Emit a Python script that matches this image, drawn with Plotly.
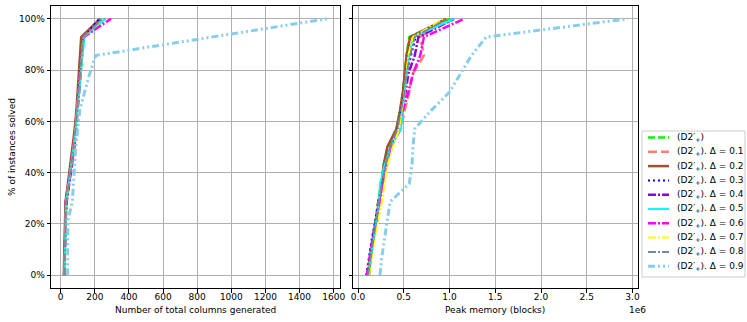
import plotly.graph_objects as go
from plotly.subplots import make_subplots

# share of instances solved (15 instances)
pct = [0, 7.1, 14.3, 21.4, 28.6, 35.7, 42.9, 50, 57.1, 64.3, 71.4, 78.6, 85.7, 92.9, 100]

labels = [
    "(D2′<sub>+</sub>)",
    "(D2′<sub>+</sub>). Δ = 0.1",
    "(D2′<sub>+</sub>). Δ = 0.2",
    "(D2′<sub>+</sub>). Δ = 0.3",
    "(D2′<sub>+</sub>). Δ = 0.4",
    "(D2′<sub>+</sub>). Δ = 0.5",
    "(D2′<sub>+</sub>). Δ = 0.6",
    "(D2′<sub>+</sub>). Δ = 0.7",
    "(D2′<sub>+</sub>). Δ = 0.8",
    "(D2′<sub>+</sub>). Δ = 0.9",
]

# number of total columns generated, per variant
cols_base = [20, 22, 24, 26, 30, 45, 60, 75, 85, 95, 105, 112, 120, 130, 240]
cols_d01 = [20, 22, 24, 27, 32, 47, 62, 76, 86, 96, 106, 113, 121, 132, 235]
cols_d02 = [18, 20, 22, 25, 28, 42, 56, 70, 82, 92, 100, 108, 115, 120, 230]
cols_d03 = [22, 24, 26, 28, 33, 48, 63, 78, 88, 98, 108, 115, 123, 135, 225]
cols_d04 = [22, 24, 26, 29, 35, 50, 65, 80, 90, 100, 110, 117, 125, 135, 260]
cols_d05 = [21, 23, 25, 28, 32, 47, 62, 77, 88, 98, 110, 118, 128, 140, 260]
cols_d06 = [20, 22, 24, 26, 30, 46, 61, 76, 86, 96, 106, 113, 121, 135, 295]
cols_d07 = [21, 23, 25, 27, 31, 46, 61, 76, 86, 96, 106, 114, 122, 133, 250]
cols_d08 = [21, 23, 25, 27, 31, 46, 61, 76, 86, 96, 106, 114, 122, 132, 245]
cols_d09 = [40, 40, 41, 42, 68, 75, 82, 88, 100, 112, 140, 170, 205, 880, 1560]

# peak memory (blocks), per variant
mem_base = [100e3, 130e3, 160e3, 190e3, 220e3, 250e3, 280e3, 330e3, 420e3, 460e3, 490e3, 510e3, 530e3, 560e3, 1000e3]
mem_d01 = [110e3, 140e3, 160e3, 210e3, 220e3, 270e3, 310e3, 360e3, 470e3, 510e3, 560e3, 600e3, 720e3, 680e3, 960e3]
mem_d02 = [120e3, 140e3, 170e3, 200e3, 230e3, 260e3, 280e3, 320e3, 420e3, 460e3, 490e3, 510e3, 530e3, 570e3, 960e3]
mem_d03 = [90e3, 120e3, 150e3, 190e3, 220e3, 260e3, 300e3, 360e3, 430e3, 470e3, 510e3, 530e3, 580e3, 630e3, 930e3]
mem_d04 = [100e3, 130e3, 160e3, 200e3, 230e3, 270e3, 310e3, 360e3, 440e3, 480e3, 520e3, 550e3, 620e3, 660e3, 1050e3]
mem_d05 = [110e3, 140e3, 170e3, 200e3, 230e3, 240e3, 290e3, 360e3, 470e3, 490e3, 510e3, 530e3, 560e3, 600e3, 1050e3]
mem_d06 = [100e3, 130e3, 160e3, 200e3, 240e3, 270e3, 310e3, 360e3, 440e3, 490e3, 550e3, 600e3, 680e3, 720e3, 1160e3]
mem_d07 = [120e3, 150e3, 180e3, 220e3, 260e3, 290e3, 320e3, 380e3, 450e3, 480e3, 510e3, 530e3, 550e3, 600e3, 930e3]
mem_d08 = [110e3, 140e3, 170e3, 200e3, 230e3, 260e3, 300e3, 350e3, 430e3, 470e3, 510e3, 530e3, 570e3, 620e3, 970e3]
mem_d09 = [240e3, 260e3, 290e3, 320e3, 350e3, 560e3, 590e3, 600e3, 620e3, 800e3, 1000e3, 1120e3, 1240e3, 1400e3, 2950e3]

cols = [cols_base, cols_d01, cols_d02, cols_d03, cols_d04, cols_d05, cols_d06, cols_d07, cols_d08, cols_d09]
mems = [mem_base, mem_d01, mem_d02, mem_d03, mem_d04, mem_d05, mem_d06, mem_d07, mem_d08, mem_d09]

styles = [
    ("#00ff00", "7px,3px", 2.5),
    ("#fa8072", "9px,4px", 2.5),
    ("#a0522d", "solid", 2.5),
    ("#0000ff", "2px,3px", 2),
    ("#9400d3", "8px,2px,2px,2px", 2.5),
    ("#00ffff", "solid", 2),
    ("#ff00ff", "8px,2px,2px,2px", 2.5),
    ("#ffff00", "8px,2px,2px,2px", 2),
    ("#778899", "8px,2px,2px,2px", 2),
    ("#87ceeb", "7px,3px,2px,3px,2px,3px", 3),
]

W, H = 747, 322


def px_x(p):
    return p / W


def px_y(p):
    return 1 - p / H


fig = make_subplots(rows=1, cols=2)

for i in range(len(labels)):
    color, dash, width = styles[i]
    fig.add_trace(go.Scatter(
        x=cols[i], y=pct, mode="lines", name=labels[i],
        line=dict(color=color, dash=dash, width=width),
    ), row=1, col=1)
    fig.add_trace(go.Scatter(
        x=mems[i], y=pct, mode="lines", name=labels[i],
        line=dict(color=color, dash=dash, width=width),
    ), row=1, col=2)

axis_common = dict(
    showline=True, mirror=True, linecolor="black", linewidth=1,
    ticks="outside", ticklen=3.5, tickcolor="black",
    showgrid=True, gridcolor="#b0b0b0", gridwidth=0.8, zeroline=False,
    tickfont=dict(size=9, color="black"), automargin=False,
)
pct_ticks = [0, 20, 40, 60, 80, 100]

fig.update_layout(
    width=W, height=H,
    margin=dict(l=0, r=0, t=0, b=0),
    paper_bgcolor="white", plot_bgcolor="white",
    font=dict(family="DejaVu Sans", size=9, color="black"),
    xaxis=dict(domain=[px_x(51), px_x(340)], range=[-57, 1637],
               tickvals=list(range(0, 1601, 200)), ticklabelstandoff=-3, **axis_common),
    xaxis2=dict(domain=[px_x(353), px_x(638)], range=[-55e3, 3.06e6],
                tickvals=[0, 0.5e6, 1e6, 1.5e6, 2e6, 2.5e6, 3e6],
                ticktext=["0.0", "0.5", "1.0", "1.5", "2.0", "2.5", "3.0"],
                ticklabelstandoff=-3, **axis_common),
    yaxis=dict(domain=[px_y(288), px_y(6)], range=[-5, 105],
               tickvals=pct_ticks, ticktext=[f"{v}%" for v in pct_ticks], **axis_common),
    yaxis2=dict(domain=[px_y(288), px_y(6)], range=[-5, 105],
                tickvals=pct_ticks, showticklabels=False, **axis_common),
    showlegend=False,
)


def note(text, x, y, **kw):
    opts = dict(xanchor="center", yanchor="middle")
    opts.update(kw)
    fig.add_annotation(text=text, xref="paper", yref="paper", x=px_x(x), y=px_y(y),
                       showarrow=False, font=dict(size=9), **opts)


note("Number of total columns generated", 195, 310)
note("Peak memory (blocks)", 495, 310)
note("% of instances solved", 12, 147, textangle=-90)
note("1e6", 627, 310, xanchor="left")

# legend box drawn by hand (plotly legend rows are too tall for this size)
fig.add_shape(type="rect", xref="paper", yref="paper",
              x0=px_x(642), x1=px_x(745), y0=px_y(277), y1=px_y(131),
              line=dict(color="#cccccc", width=1), fillcolor="white", layer="above")
for i in range(len(labels)):
    color, dash, width = styles[i]
    yc = 137.5 + i * 14.3
    fig.add_shape(type="line", xref="paper", yref="paper",
                  x0=px_x(648), x1=px_x(669), y0=px_y(yc), y1=px_y(yc),
                  line=dict(color=color, dash=dash, width=width), layer="above")
    note(labels[i], 675, yc, xanchor="left")

fig.write_html("out.html", config={"displayModeBar": False},
               post_script="document.body.style.margin = '0';")
